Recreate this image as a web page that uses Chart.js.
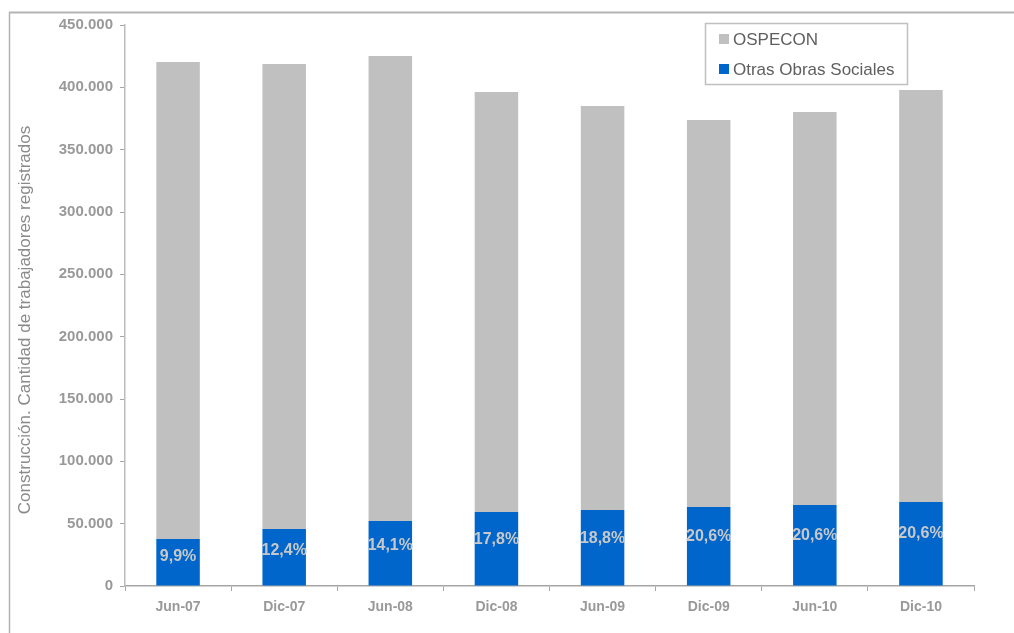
<!DOCTYPE html>
<html>
<head>
<meta charset="utf-8">
<script src="https://cdn.jsdelivr.net/npm/chart.js@4"></script>
<style>
  html, body { margin: 0; padding: 0; background: #ffffff; }
  #wrap { width: 1014px; height: 633px; position: relative; }
</style>
</head>
<body>
<div id="wrap"><canvas id="c" width="1014" height="633"></canvas></div>
<script>
const categories = ['Jun-07', 'Dic-07', 'Jun-08', 'Dic-08', 'Jun-09', 'Dic-09', 'Jun-10', 'Dic-10'];
const otrasObrasSociales = [37700, 45700, 52100, 59400, 61000, 63400, 65000, 67400];
const ospecon = [382600, 373000, 373000, 336800, 324000, 310400, 315200, 330500];
const percentLabels = ['9,9%', '12,4%', '14,1%', '17,8%', '18,8%', '20,6%', '20,6%', '20,6%'];
const yTicks = [0, 50000, 100000, 150000, 200000, 250000, 300000, 350000, 400000, 450000];
const yTitle = 'Construcción. Cantidad de trabajadores registrados';

const GREY = '#C0C0C0';
const BLUE = '#0066CC';
const FONT = 'Liberation Sans, Arial, Helvetica, sans-serif';

function fmt(v) {
  return String(v).replace(/\B(?=(\d{3})+(?!\d))/g, '.');
}

const framePlugin = {
  id: 'frame',
  beforeDraw(chart) {
    const ctx = chart.ctx;
    ctx.save();
    ctx.strokeStyle = '#b3b3b3';
    ctx.lineWidth = 2;
    ctx.beginPath();
    ctx.moveTo(9, 12.5);
    ctx.lineTo(1014, 12.5);
    ctx.stroke();
    ctx.lineWidth = 1.5;
    ctx.beginPath();
    ctx.moveTo(9.5, 12);
    ctx.lineTo(9.5, 633);
    ctx.stroke();
    // y-axis title
    ctx.translate(25, 320);
    ctx.rotate(-Math.PI / 2);
    ctx.font = '17px ' + FONT;
    ctx.fillStyle = '#8a8a8a';
    ctx.textAlign = 'center';
    ctx.textBaseline = 'middle';
    ctx.fillText(yTitle, 0, 0);
    ctx.restore();
  }
};

const pctPlugin = {
  id: 'pct',
  afterDatasetsDraw(chart) {
    const ctx = chart.ctx;
    const meta = chart.getDatasetMeta(0);
    ctx.save();
    ctx.font = 'bold 16px ' + FONT;
    ctx.fillStyle = '#c8c8c8';
    ctx.textAlign = 'center';
    ctx.textBaseline = 'middle';
    meta.data.forEach((bar, i) => {
      const p = bar.getProps(['x', 'y', 'base'], true);
      const h = p.base - p.y;
      ctx.fillText(percentLabels[i], p.x, p.base - h * 0.62);
    });
    ctx.restore();
  }
};

const legendPlugin = {
  id: 'boxLegend',
  afterDraw(chart) {
    const ctx = chart.ctx;
    const ds = chart.data.datasets.slice().reverse();
    ctx.save();
    ctx.strokeStyle = '#c0c0c0';
    ctx.lineWidth = 1.5;
    ctx.strokeRect(705.5, 23.5, 202, 61);
    ctx.font = '17px ' + FONT;
    ctx.textBaseline = 'middle';
    ctx.textAlign = 'left';
    ds.forEach((d, i) => {
      const cy = 39 + i * 30;
      ctx.fillStyle = d.backgroundColor;
      ctx.fillRect(719, cy - 5, 10, 10);
      ctx.fillStyle = '#5f5f5f';
      ctx.fillText(d.label, 733, cy + 1);
    });
    ctx.restore();
  }
};

new Chart(document.getElementById('c'), {
  type: 'bar',
  data: {
    labels: categories,
    datasets: [
      { label: 'Otras Obras Sociales', data: otrasObrasSociales, backgroundColor: BLUE, stack: 's' },
      { label: 'OSPECON', data: ospecon, backgroundColor: GREY, stack: 's' }
    ]
  },
  options: {
    responsive: false,
    animation: false,
    devicePixelRatio: 1,
    layout: { padding: { top: 25, right: 40, bottom: 0, left: 12 } },
    plugins: {
      legend: { display: false },
      tooltip: { enabled: false }
    },
    datasets: { bar: { categoryPercentage: 1, barPercentage: 0.41 } },
    scales: {
      x: {
        stacked: true,
        afterFit(s) { s.height = 47; },
        grid: { drawOnChartArea: false, drawTicks: true, tickLength: 5, color: '#a6a6a6', offset: true },
        border: { display: true, color: '#a6a6a6', width: 1.5 },
        ticks: { color: '#999999', font: { family: FONT, size: 14, weight: 'bold' }, padding: 8, maxRotation: 0 }
      },
      y: {
        stacked: true,
        min: 0,
        max: 450000,
        afterFit(s) { s.width = 113; },
        afterBuildTicks(s) { s.ticks = yTicks.map(v => ({ value: v })); },
        grid: { drawOnChartArea: false, drawTicks: true, tickLength: 5, color: '#a6a6a6' },
        border: { display: true, color: '#bdbdbd', width: 1.5 },
        ticks: {
          color: '#999999',
          font: { family: FONT, size: 15, weight: 'bold' },
          padding: 7,
          callback: (v) => fmt(v)
        }
      }
    }
  },
  plugins: [framePlugin, pctPlugin, legendPlugin]
});
</script>
</body>
</html>
